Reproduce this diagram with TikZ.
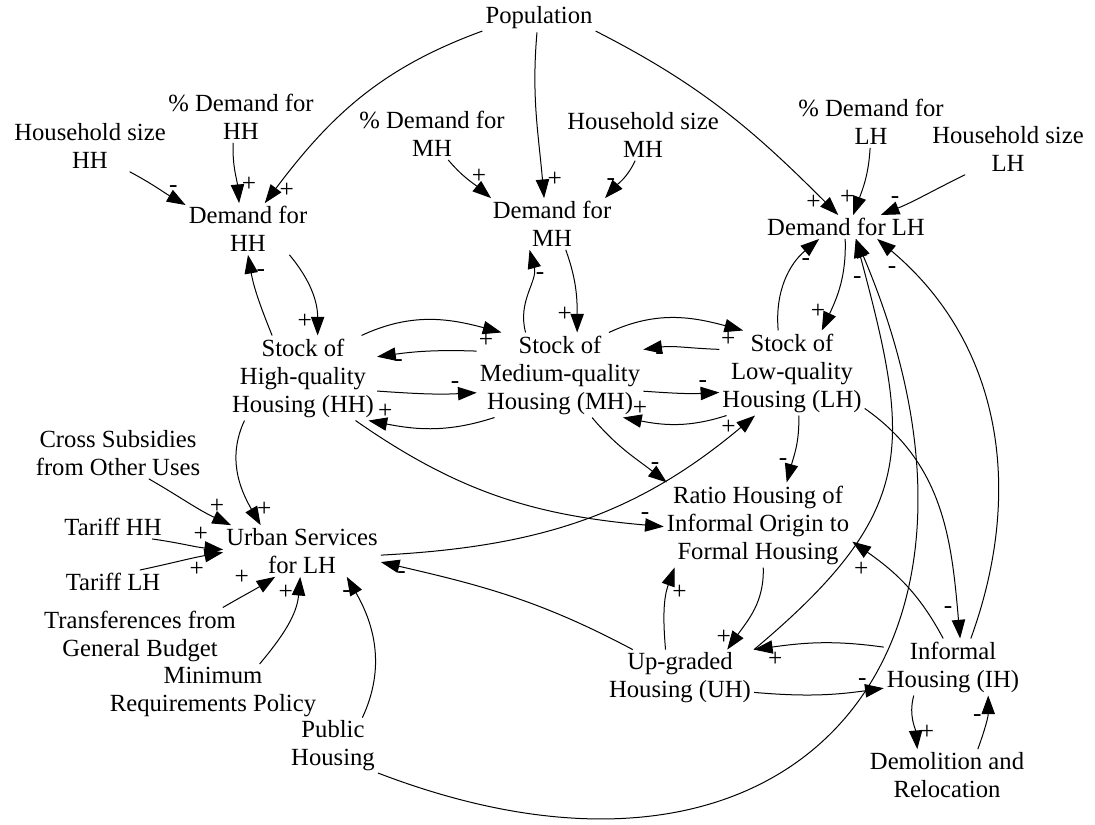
\documentclass[tikz,border=0pt]{standalone}
\usepackage{fontspec}
\setmainfont{Liberation Serif}
\usetikzlibrary{arrows.meta}

\begin{document}
\begin{tikzpicture}[x=0.75pt, y=0.75pt, line width=0.75pt, >={Triangle[length=14pt,width=10pt]},
                    main node/.style={align=center, inner sep=2pt, font=\fontsize{18.5}{21}\selectfont}]
  \useasboundingbox (0,0) rectangle (1095,824);

  \node[main node] (1) at (539,806) {Population};
  \node[main node] (2) at (241,707) {\% Demand for\\HH};
  \node[main node] (3) at (90,678) {Household size\\HH};
  \node[main node] (4) at (248,595) {Demand for\\HH};
  \node[main node] (5) at (432,690) {\% Demand for\\MH};
  \node[main node] (6) at (643,689) {Household size\\MH};
  \node[main node] (7) at (552,600) {Demand for\\MH};
  \node[main node] (8) at (871,702) {\% Demand for\\LH};
  \node[main node] (9) at (1008,675) {Household size\\LH};
  \node[main node] (10) at (846,597) {Demand for LH};
  \node[main node] (11) at (303,446) {Stock of\\High-quality\\Housing (HH)};
  \node[main node] (12) at (560,449) {Stock of\\Medium-quality\\Housing (MH)};
  \node[main node] (13) at (792,451) {Stock of\\Low-quality\\Housing (LH)};
  \node[main node] (14) at (118,371) {Cross Subsidies\\from Other Uses};
  \node[main node] (15) at (113,297) {Tariff HH};
  \node[main node] (16) at (113,242) {Tariff LH};
  \node[main node] (17) at (302,273) {Urban Services\\for LH};
  \node[main node] (18) at (140,188) {Transferences from\\General Budget};
  \node[main node] (19) at (213,132) {Minimum\\Requirements Policy};
  \node[main node] (20) at (333,78) {Public\\Housing};
  \node[main node] (21) at (758,299) {Ratio Housing of\\Informal Origin to\\Formal Housing};
  \node[main node] (22) at (680,146) {Up-graded\\Housing (UH)};
  \node[main node] (23) at (953,157) {Informal\\Housing (IH)};
  \node[main node] (24) at (947,49) {Demolition and\\Relocation};

  \path[->, every node/.style={font=\fontsize{19}{19}\selectfont, inner sep=3.5pt}]
    (1.-167) edge[out=200, in=53] node[pos=.95, right] {+} (4.57)
    (1.-98) edge[out=-95, in=95] node[pos=.9, right] {+} (7.107)
    (1.-13) edge[out=-27, in=135] node[pos=.95, left] {+} (10.123)
    (2.-107) edge[out=-92, in=95] node[pos=.7, right] {+} (4.109)
    (3.-33) edge[out=-28, in=150] node[pos=.8, above] {-} (4.159)
    (5.-58) edge[out=-50, in=140] node[pos=.75, above] {+} (7.157)
    (6.-107) edge[out=-115, in=48] node[pos=.55, left] {-} (7.26)
    (8.-92) edge[out=-93, in=70] node[pos=.75, left] {+} (10.59)
    (9.-149) edge[out=206, in=22] node[pos=.85, above] {-} (10.19)
    (11.126) edge[out=112, in=-80] node[pos=.8, right] {-} (4.-90)
    (4.-32) edge[out=-50, in=90] node[pos=.85, left] {+} (11.71)
    (12.129) edge[out=105, in=-75] node[pos=.7, right] {-} (7.-131)
    (7.-62) edge[out=-70, in=90] node[pos=.8, left] {+} (12.68)
    (13.108) edge[out=95, in=-140] node[pos=.7, right] {-} (10.-156)
    (10.-94) edge[out=-88, in=65] node[pos=.8, left] {+} (13.55)
    (11.36) edge[out=25, in=165] node[pos=.9, below] {+} (12.144)
    (12.164) edge[out=178, in=8] node[pos=.8, below] {-} (11.16)
    (11.-10) edge[out=-4, in=183] node[pos=.8, above] {-} (12.-168)
    (12.-147) edge[out=198, in=-11] node[pos=.88, above] {+} (11.-33)
    (12.41) edge[out=25, in=165] node[pos=.9, below] {+} (13.139)
    (13.162) edge[out=178, in=8] node[pos=.8, below] {-} (12.17)
    (12.-11) edge[out=-4, in=183] node[pos=.8, above] {-} (13.-165)
    (13.-147) edge[out=198, in=-11] node[pos=.85, above] {+} (12.-34)
    (11.-144) edge[out=-115, in=120] node[pos=.85, right] {+} (17.148)
    (14.-40) edge[out=-30, in=155] node[pos=.85, above] {+} (17.160)
    (15.-17) edge[out=-8, in=175] node[pos=.7, above] {+} (17.179)
    (16.24) edge[out=12, in=190] node[pos=.7, below] {+} (17.-179)
    (18.19) edge[out=30, in=-148] node[pos=.6, above left] {+} (17.-136)
    (19.31) edge[out=50, in=-95] node[pos=.85, left] {+} (17.-94)
    (20.44) edge[out=65, in=-60] node[pos=.88, left] {-} (17.-30)
    (22.149) edge[out=152, in=-13] node[pos=.93, below] {-} (17.-8)
    (17.-3) edge[out=3, in=-140] node[pos=.96, left] {+} (13.-131)
    (11.-39) edge[out=-35, in=175] node[pos=.95, above] {-} (21.-179)
    (12.-53) edge[out=-50, in=142] node[pos=.75, right] {-} (21.155)
    (13.-81) edge[out=-88, in=75] node[pos=.7, left] {-} (21.56)
    (21.-83) edge[out=-88, in=55] node[pos=.85, left] {+} (22.31)
    (22.117) edge[out=95, in=-110] node[pos=.7, right] {+} (21.-153)
    (23.164) edge[out=172, in=8] node[pos=.85, below] {+} (22.21)
    (22.-11) edge[out=-5, in=-172] node[pos=.85, above] {-} (23.-163)
    (23.109) edge[out=118, in=-35] node[pos=.82, below left] {+} (21.-10)
    (13.-26) edge[out=-35, in=95] node[pos=.9, left] {-} (23.76)
    (23.58) edge[out=70, in=-40] node[pos=.93, below left] {-} (10.-21)
    (22.21) edge[out=40, in=-75, looseness=1.3] node[pos=.93, left] {-} (10.-51)
    (20.-31) edge[out=-21, in=-67, looseness=1.6] (10.-50)
    (23.-144) edge[out=-105, in=95] node[pos=.7, right] {+} (24.139)
    (24.40) edge[out=70, in=-90] node[pos=.6, left] {-} (23.-39);
\end{tikzpicture}
\end{document}
